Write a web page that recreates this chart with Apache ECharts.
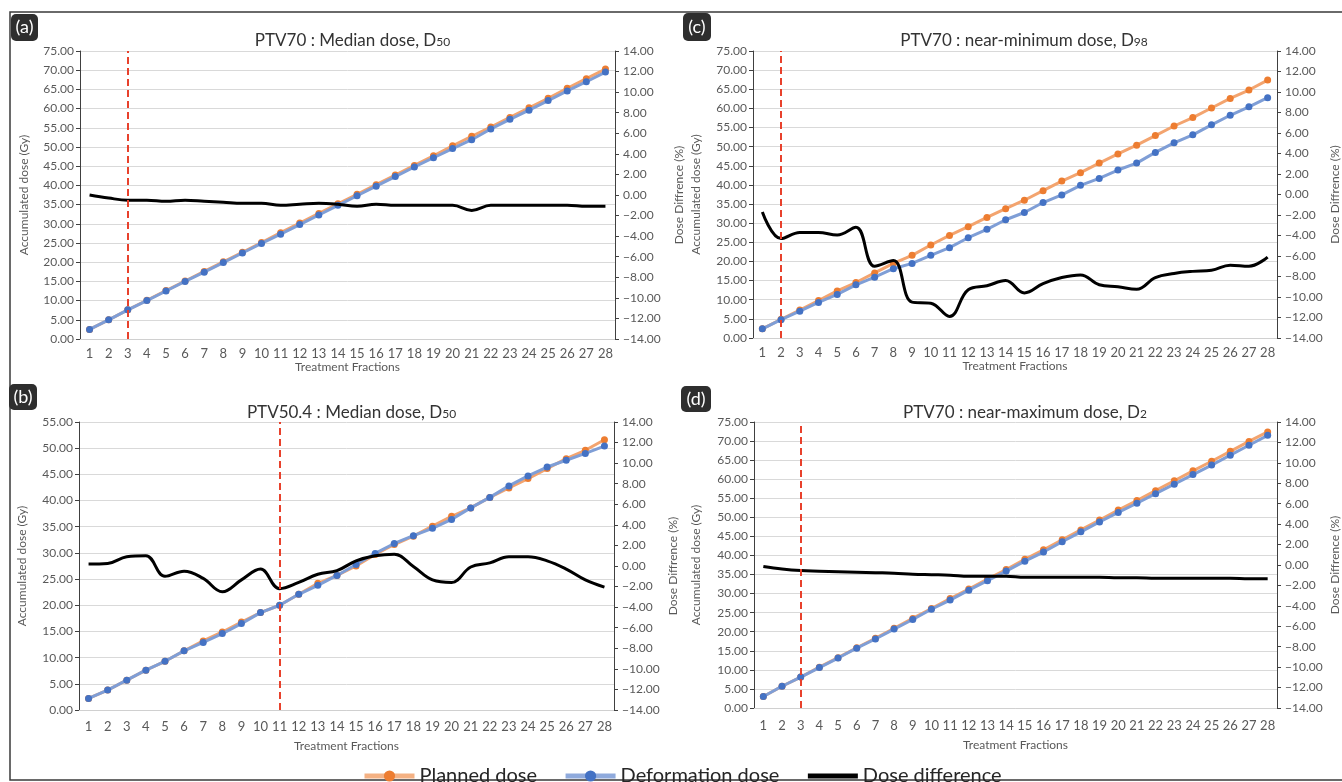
<!DOCTYPE html>
<html>
<head>
<meta charset="utf-8">
<script src="https://cdn.jsdelivr.net/npm/echarts@6/dist/echarts.min.js"></script>
<style>
html, body { margin: 0; padding: 0; background: #fff; }
#chart { width: 1342px; height: 782px; }
</style>
</head>
<body>
<div id="chart"></div>
<script>
var fractions = ['1','2','3','4','5','6','7','8','9','10','11','12','13','14','15','16','17','18','19','20','21','22','23','24','25','26','27','28'];

// (a) PTV70 median dose D50
var planA   = [2.5, 5.0, 7.6, 10.1, 12.6, 15.1, 17.6, 20.1, 22.6, 25.1, 27.7, 30.2, 32.7, 35.2, 37.7, 40.2, 42.7, 45.2, 47.7, 50.3, 52.8, 55.2, 57.7, 60.2, 62.7, 65.3, 67.8, 70.3];
var deformA = [2.5, 5.0, 7.6, 10.0, 12.5, 15.0, 17.4, 19.9, 22.4, 24.9, 27.3, 29.8, 32.3, 34.8, 37.3, 39.8, 42.3, 44.8, 47.2, 49.6, 51.9, 54.7, 57.2, 59.6, 62.1, 64.6, 67.0, 69.5];
var diffA   = [0.0, -0.3, -0.5, -0.5, -0.6, -0.5, -0.6, -0.7, -0.8, -0.8, -1.0, -0.9, -0.8, -0.9, -1.1, -0.9, -1.0, -1.0, -1.0, -1.0, -1.5, -1.0, -1.0, -1.0, -1.0, -1.0, -1.1, -1.1];

// (b) PTV50.4 median dose D50
var planB   = [2.2, 3.8, 5.7, 7.6, 9.3, 11.3, 13.2, 14.9, 16.8, 18.6, 20.0, 22.1, 24.2, 25.7, 27.5, 29.7, 31.6, 33.2, 35.1, 37.0, 38.6, 40.6, 42.4, 44.2, 46.1, 48.0, 49.6, 51.6];
var deformB = [2.2, 3.8, 5.7, 7.6, 9.3, 11.3, 12.9, 14.6, 16.5, 18.6, 20.0, 22.1, 23.8, 25.7, 27.8, 29.9, 31.8, 33.3, 34.7, 36.4, 38.6, 40.6, 42.8, 44.7, 46.4, 47.7, 49.0, 50.4];
var diffB   = [0.2, 0.25, 0.9, 1.0, -1.0, -0.5, -1.2, -2.5, -1.35, -0.3, -2.2, -1.6, -0.8, -0.45, 0.5, 1.0, 1.15, -0.05, -1.35, -1.6, -0.1, 0.3, 0.9, 0.9, 0.5, -0.3, -1.35, -2.05];

// (c) PTV70 near-minimum dose D98
var planC   = [2.4, 4.9, 7.3, 9.8, 12.3, 14.5, 17.0, 19.5, 21.6, 24.3, 26.8, 29.1, 31.5, 33.8, 36.0, 38.5, 41.0, 43.2, 45.7, 48.1, 50.4, 52.9, 55.4, 57.6, 60.1, 62.6, 64.8, 67.4];
var deformC = [2.4, 4.8, 7.0, 9.3, 11.4, 13.9, 15.9, 18.1, 19.5, 21.6, 23.6, 26.2, 28.4, 30.9, 32.8, 35.4, 37.4, 39.9, 41.7, 43.9, 45.7, 48.5, 51.0, 53.1, 55.7, 58.2, 60.4, 62.8];
var diffC   = [-1.7, -4.3, -3.7, -3.7, -3.95, -3.2, -7.0, -6.45, -10.5, -10.6, -11.9, -9.3, -8.9, -8.4, -9.6, -8.7, -8.1, -7.85, -8.8, -9.0, -9.25, -8.1, -7.7, -7.5, -7.4, -6.9, -7.0, -6.1];

// (d) PTV70 near-maximum dose D2
var planD   = [3.0, 5.7, 8.1, 10.7, 13.2, 15.8, 18.3, 20.9, 23.5, 26.1, 28.7, 31.2, 33.8, 36.3, 39.0, 41.5, 44.1, 46.7, 49.3, 51.9, 54.4, 57.0, 59.6, 62.2, 64.7, 67.3, 69.9, 72.4];
var deformD = [3.0, 5.7, 8.1, 10.6, 13.1, 15.7, 18.1, 20.7, 23.2, 25.9, 28.3, 30.9, 33.4, 35.9, 38.5, 40.9, 43.6, 46.2, 48.8, 51.3, 53.7, 56.2, 58.7, 61.2, 63.7, 66.3, 68.9, 71.5];
var diffD   = [-0.15, -0.4, -0.55, -0.6, -0.65, -0.7, -0.75, -0.8, -0.9, -0.95, -1.0, -1.1, -1.1, -1.1, -1.2, -1.2, -1.2, -1.2, -1.2, -1.25, -1.25, -1.3, -1.3, -1.3, -1.3, -1.3, -1.35, -1.35];

var seriesNames = ['Planned dose', 'Deformation dose', 'Dose difference'];

var panels = [
  {tag: '(a)', title: 'PTV70 : Median dose, D', sub: '50', plan: planA, deform: deformA, diff: diffA, doseMax: 75, cut: '3',
   left: 80, top: 51, width: 535, height: 288, titleTop: 27, lblMargin: 8, xNameGap: 22, lNameGap: 50, rNameGap: 58, tagBox: [11, 14, 27, 27]},
  {tag: '(b)', title: 'PTV50.4 : Median dose, D', sub: '50', plan: planB, deform: deformB, diff: diffB, doseMax: 55, cut: '11',
   left: 79, top: 422, width: 535, height: 288, titleTop: 399, lblMargin: 10, xNameGap: 30, lNameGap: 51, rNameGap: 53, tagBox: [9, 384, 28, 26]},
  {tag: '(c)', title: 'PTV70 : near-minimum dose, D', sub: '98', plan: planC, deform: deformC, diff: diffC, doseMax: 75, cut: '2',
   left: 753, top: 51, width: 532, height: 287, titleTop: 27, lblMargin: 8, xNameGap: 22, lNameGap: 51, rNameGap: 52, tagBox: [683, 13, 28, 28]},
  {tag: '(d)', title: 'PTV70 : near-maximum dose, D', sub: '2', plan: planD, deform: deformD, diff: diffD, doseMax: 75, cut: '3',
   left: 754, top: 422, width: 532, height: 286, titleTop: 399, lblMargin: 11, xNameGap: 31, lNameGap: 52, rNameGap: 52, tagBox: [681, 386, 30, 26]}
];

var font = 'Lato';
var fmt = function (v) { return (v < 0 ? '\u2212' : '') + Math.abs(v).toFixed(2); };

var grids = [], xAxes = [], yAxes = [], titles = [], series = [], graphics = [];

graphics.push({type: 'rect', z: 0, shape: {x: 10, y: 12, width: 1340, height: 768},
  style: {fill: 'none', stroke: '#3a3a3a', lineWidth: 1.5}});

panels.forEach(function (p, i) {
  grids.push({left: p.left, top: p.top, width: p.width, height: p.height});
  titles.push({
    text: '{t|' + p.title + '}{s|' + p.sub + '}',
    left: p.left + p.width / 2, top: p.titleTop, textAlign: 'center',
    textStyle: {rich: {
      t: {fontSize: 17, fontWeight: 'normal', color: '#333', fontFamily: font},
      s: {fontSize: 12, fontWeight: 'normal', color: '#333', fontFamily: font, verticalAlign: 'bottom', padding: [0, 0, 1, 0]}
    }}
  });
  xAxes.push({
    gridIndex: i, type: 'category', data: fractions, boundaryGap: true,
    axisLine: {lineStyle: {color: '#d0d0d0'}}, axisTick: {show: false},
    axisLabel: {interval: 0, fontSize: 13, color: '#595959', fontFamily: font, margin: p.lblMargin},
    name: 'Treatment Fractions', nameLocation: 'middle', nameGap: p.xNameGap,
    nameTextStyle: {fontSize: 12, color: '#595959', fontFamily: font}
  });
  yAxes.push({
    gridIndex: i, type: 'value', position: 'left', min: 0, max: p.doseMax, interval: 5,
    axisLine: {show: true, lineStyle: {color: '#404040'}},
    axisTick: {show: true, length: 4, lineStyle: {color: '#404040'}},
    axisLabel: {formatter: fmt, fontSize: 12, color: '#595959', fontFamily: font, margin: 6},
    splitLine: {lineStyle: {color: '#d9d9d9'}},
    name: 'Accumulated dose (Gy)', nameLocation: 'middle', nameGap: p.lNameGap,
    nameTextStyle: {fontSize: 12, color: '#595959', fontFamily: font}
  });
  yAxes.push({
    gridIndex: i, type: 'value', position: 'right', min: -14, max: 14, interval: 2,
    axisLine: {show: true, lineStyle: {color: '#404040'}},
    axisTick: {show: true, length: 4, lineStyle: {color: '#404040'}},
    axisLabel: {formatter: fmt, fontSize: 12, color: '#595959', fontFamily: font, margin: 8},
    splitLine: {show: false},
    name: 'Dose Diffrence (%)', nameLocation: 'middle', nameGap: p.rNameGap,
    nameTextStyle: {fontSize: 12, color: '#595959', fontFamily: font}
  });
  series.push({
    name: seriesNames[0], type: 'line', xAxisIndex: i, yAxisIndex: 2 * i, data: p.plan,
    symbol: 'circle', symbolSize: 7, lineStyle: {color: '#F3A46F', width: 3},
    itemStyle: {color: '#ED7D31'}, z: 2
  });
  series.push({
    name: seriesNames[1], type: 'line', xAxisIndex: i, yAxisIndex: 2 * i, data: p.deform,
    symbol: 'circle', symbolSize: 7, lineStyle: {color: '#7F9ED6', width: 3},
    itemStyle: {color: '#4472C4'}, z: 3
  });
  series.push({
    name: seriesNames[2], type: 'line', xAxisIndex: i, yAxisIndex: 2 * i + 1, data: p.diff,
    smooth: 0.4, symbol: 'none', lineStyle: {color: '#000', width: 3},
    itemStyle: {color: '#000'}, z: 4,
    markLine: {
      silent: true, symbol: 'none', label: {show: false},
      lineStyle: {color: '#E8412C', type: [7, 4], width: 2},
      data: [{xAxis: p.cut}]
    }
  });
  var b = p.tagBox;
  graphics.push({type: 'rect', z: 10, shape: {x: b[0], y: b[1], width: b[2], height: b[3], r: 5},
    style: {fill: '#2e2e2e'}});
  graphics.push({type: 'text', z: 11, x: b[0] + b[2] / 2, y: b[1] + b[3] / 2,
    style: {text: p.tag, fill: '#fff', font: '18px Lato', align: 'center', verticalAlign: 'middle'}});
});

var chart = echarts.init(document.getElementById('chart'));
chart.setOption({
  animation: false,
  backgroundColor: '#fff',
  title: titles,
  grid: grids,
  xAxis: xAxes,
  yAxis: yAxes,
  legend: {
    data: [
      {name: seriesNames[0], lineStyle: {width: 5, color: '#F4B183'}},
      {name: seriesNames[1], lineStyle: {width: 5, color: '#8FAADC'}},
      {name: seriesNames[2], lineStyle: {width: 5, color: '#000'}, itemStyle: {opacity: 0}}
    ],
    left: 357, top: 761, itemWidth: 50, itemHeight: 14, itemGap: 26,
    textStyle: {fontSize: 20, color: '#262626', fontFamily: font}
  },
  graphic: graphics,
  series: series
});
</script>
</body>
</html>
